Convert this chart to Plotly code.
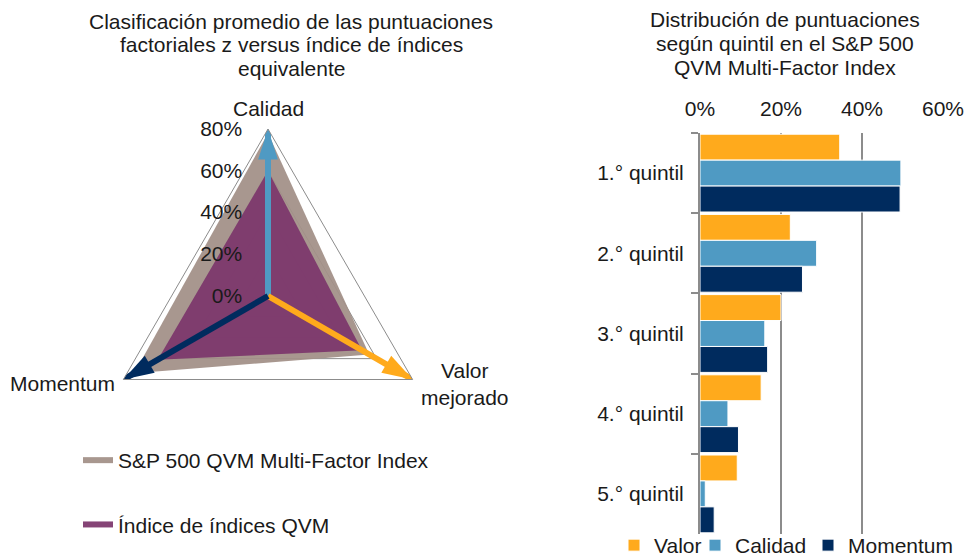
import plotly.graph_objects as go

W, H = 977, 558
OFF = 8  # page body margin of the html page

# ---------------- data ----------------
factors = ["Calidad", "Valor mejorado", "Momentum"]
sp500_qvm = [78, 56, 74]          # S&P 500 QVM Multi-Factor Index
indice_qvm = [60, 52, 61]         # Índice de índices QVM
radial_ticks = [0, 20, 40, 60, 80]

quintiles = ["1.° quintil", "2.° quintil", "3.° quintil", "4.° quintil", "5.° quintil"]
valor = [34.5, 22.3, 20.0, 15.1, 9.2]
calidad = [49.6, 28.8, 16.0, 6.9, 1.3]
momentum = [49.4, 25.3, 16.7, 9.5, 3.5]
bar_ticks = [0, 20, 40, 60]

# ---------------- styles ----------------
FONT = "Liberation Sans, Arial, sans-serif"
FS = 21
C_BROWN = "rgba(163,145,136,0.94)"
C_PURPLE = "rgba(124,54,108,0.93)"
C_ORANGE = "#FFAA1C"
C_LBLUE = "#4F9AC3"
C_NAVY = "#002B5E"
GRID = "#8C8C8C"

def fx(px):
    return (px - OFF) / W

def fy(py):
    return 1 - (py - OFF) / H

fig = go.Figure()

# radar fills
fig.add_trace(go.Scatterpolar(
    r=sp500_qvm + sp500_qvm[:1], theta=factors + factors[:1],
    mode="none", fill="toself", fillcolor=C_BROWN,
    name="S&P 500 QVM Multi-Factor Index", legendgroup="a", legend="legend",
))
fig.add_trace(go.Scatterpolar(
    r=indice_qvm + indice_qvm[:1], theta=factors + factors[:1],
    mode="none", fill="toself", fillcolor=C_PURPLE,
    name="Índice de índices QVM", legendgroup="b", legend="legend",
))

# axis arrows
rmax = radial_ticks[-1]
arrow_colors = [C_LBLUE, C_ORANGE, C_NAVY]
arrow_angles = [0, 120, 240]
for f, c, a in zip(factors, arrow_colors, arrow_angles):
    fig.add_trace(go.Scatterpolar(
        r=[0, rmax], theta=[f, f], mode="lines+markers",
        line=dict(color=c, width=6),
        marker=dict(size=[0, 32], symbol="arrow", angle=[0, a], color=c,
                    opacity=1, line=dict(width=0)),
        showlegend=False, hoverinfo="skip",
    ))

# bars
legend_widths = [36, 68, 100]
for name, vals, col, lw in [("Valor", valor, C_ORANGE, legend_widths[0]),
                            ("Calidad", calidad, C_LBLUE, legend_widths[1]),
                            ("Momentum", momentum, C_NAVY, legend_widths[2])]:
    fig.add_trace(go.Bar(
        x=vals, y=quintiles, orientation="h", name=name,
        marker=dict(color=col, line=dict(color="white", width=1)),
        xaxis="x2", yaxis="y2", legend="legend2", legendwidth=lw,
    ))

fig.update_layout(
    width=W, height=H,
    margin=dict(l=0, r=0, t=0, b=0, autoexpand=False),
    paper_bgcolor="white", plot_bgcolor="white",
    font=dict(family=FONT, size=FS, color="#1a1a1a"),
    polar=dict(
        domain=dict(x=[fx(101), fx(435)], y=[fy(463), fy(129)]),
        gridshape="linear",
        bgcolor="white",
        radialaxis=dict(
            range=[0, rmax], tickmode="array", tickvals=radial_ticks,
            ticktext=[f"{v}%" for v in radial_ticks],
            angle=90, side="counterclockwise", tickangle=90,
            showline=False, ticks="outside", ticklen=18,
            tickcolor="rgba(0,0,0,0)",
            gridcolor=GRID, gridwidth=1, tickfont=dict(size=FS),
        ),
        angularaxis=dict(
            rotation=90, direction="clockwise", showgrid=False,
            showline=True, linecolor=GRID, linewidth=1,
            ticks="", showticklabels=False,
        ),
    ),
    xaxis2=dict(
        domain=[fx(700), fx(943)], anchor="y2", side="top",
        range=[0, 60], tickmode="array", tickvals=bar_ticks,
        ticktext=[f"{v}%" for v in bar_ticks],
        showgrid=True, gridcolor=GRID, gridwidth=2, zeroline=False,
        showline=False, ticks="", tickfont=dict(size=FS),
        ticklabelstandoff=12,
    ),
    yaxis2=dict(
        domain=[fy(534), fy(133)], anchor="x2", type="category",
        autorange="reversed", showline=True, linecolor=GRID, linewidth=2,
        ticks="outside", tickson="boundaries", ticklen=7, tickcolor=GRID,
        tickwidth=2, showgrid=False, tickfont=dict(size=FS),
        ticklabelstandoff=10,
    ),
    bargap=0.03, bargroupgap=0, barmode="group",
    legend=dict(
        x=fx(78), y=fy(440), xanchor="left", yanchor="top",
        font=dict(size=FS), tracegroupgap=34, bgcolor="rgba(0,0,0,0)",
        traceorder="grouped",
    ),
    legend2=dict(
        orientation="h", x=fx(614), y=0, xanchor="left", yanchor="bottom",
        font=dict(size=FS), bgcolor="rgba(0,0,0,0)",
    ),
    showlegend=True,
)

# radar category labels
cat_labels = [
    dict(text=factors[0], x=268, y=108, xanchor="center", align="center"),
    dict(text=factors[1].replace(" ", "<br>"), x=465, y=384, xanchor="center",
         align="center"),
    dict(text=factors[2], x=117, y=383, xanchor="right", align="right"),
]
for lab in cat_labels:
    fig.add_annotation(text=lab["text"], x=fx(lab["x"]), y=fy(lab["y"]),
                       xref="paper", yref="paper", showarrow=False,
                       xanchor=lab["xanchor"], yanchor="middle",
                       align=lab["align"], font=dict(size=FS))

# titles
left_title = ["Clasificación promedio de las puntuaciones",
              "factoriales z versus índice de índices",
              "equivalente"]
right_title = ["Distribución de puntuaciones",
               "según quintil en el S&P 500",
               "QVM Multi-Factor Index"]
for i, line in enumerate(left_title):
    fig.add_annotation(text=line, x=fx(291), y=fy(21 + 23.5 * i), xref="paper",
                       yref="paper", showarrow=False, xanchor="center",
                       yanchor="middle", font=dict(size=FS))
for i, line in enumerate(right_title):
    fig.add_annotation(text=line, x=fx(785), y=fy(20 + 23.5 * i), xref="paper",
                       yref="paper", showarrow=False, xanchor="center",
                       yanchor="middle", font=dict(size=FS))

fig.write_html("out.html")
